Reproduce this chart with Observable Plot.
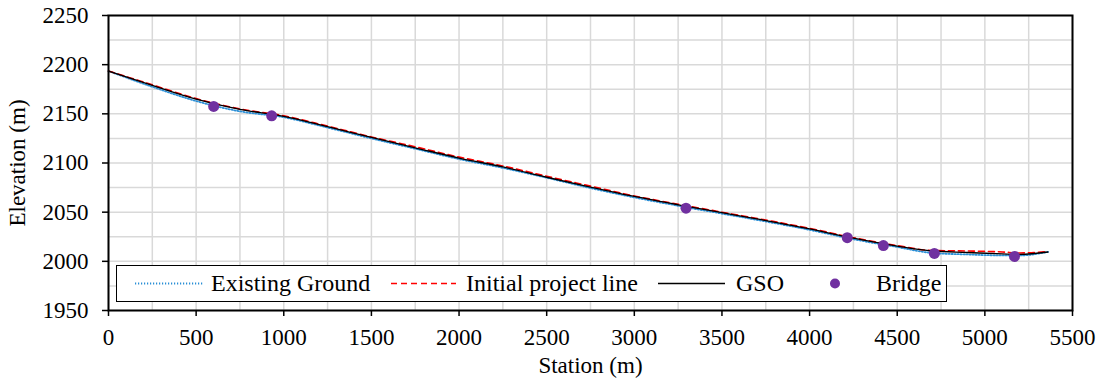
<!DOCTYPE html>
<html><head><meta charset="utf-8">
<script src="https://cdn.jsdelivr.net/npm/d3@7"></script>
<script src="https://cdn.jsdelivr.net/npm/@observablehq/plot@0.6"></script>
<style>
body{margin:0;background:#fff;}
#wrap{position:relative;width:1099px;height:383px;font-family:"Liberation Serif",Tinos,"Times New Roman",Times,"DejaVu Serif",serif;}
#wrap svg text{font-family:"Liberation Serif",Tinos,"Times New Roman",Times,"DejaVu Serif",serif;}
#legend{position:absolute;left:116px;top:265px;width:829px;height:35px;border:1.5px solid #000;background:#fff;font-size:24px;color:#000;}
#legend .it{position:absolute;top:0;height:35px;line-height:35px;white-space:nowrap;}
#legend svg{position:absolute;top:0;}
</style>
</head><body>
<div id="wrap"><div id="chart"></div><div id="legend"></div></div>
<script>
const stations = [0, 250, 500, 750, 1000, 1250, 1500, 1750, 2000, 2250, 2500, 2750, 3000, 3250, 3500, 3750, 4000, 4250, 4500, 4700, 4900, 5100, 5200, 5360];
const existingGround = [2193.5, 2177.5, 2163, 2152.5, 2146.5, 2136, 2125, 2114.5, 2104, 2095, 2085, 2074.5, 2065, 2056.5, 2048.5, 2040.5, 2032, 2022.5, 2014.5, 2008.5, 2007, 2006, 2006, 2009.5];
const initialProject = [2193.5, 2179.5, 2165.5, 2155, 2148, 2137.5, 2126.5, 2116.5, 2106, 2097, 2086.5, 2076.5, 2066.5, 2058, 2050, 2042, 2033.5, 2024, 2016, 2011, 2010.5, 2009.5, 2008.5, 2010];
const gso = [2193.5, 2179, 2165, 2154.5, 2147.5, 2137, 2126, 2115.5, 2105, 2096, 2085.5, 2075.5, 2066, 2057.5, 2049.5, 2041.5, 2033, 2023.5, 2015.5, 2010.5, 2009, 2007.5, 2007, 2009.5];
const bridgeStations = [600, 931, 3295, 4215, 4421, 4712, 5169];
const bridgeElev = [2157.5, 2148, 2054, 2024, 2016, 2008, 2005];
const xTicks = [0, 500, 1000, 1500, 2000, 2500, 3000, 3500, 4000, 4500, 5000, 5500];
const yTicks = [1950, 2000, 2050, 2100, 2150, 2200, 2250];
const xGrid = d3.range(0, 5501, 250);
const yGrid = d3.range(1950, 2251, 25);
const seriesNames = ["Existing Ground", "Initial project line", "GSO", "Bridge"];

const toRows = (xs, ys) => xs.map((x, i) => ({x, y: ys[i]}));
const FONT = '"Liberation Serif", Tinos, "Times New Roman", Times, "DejaVu Serif", serif';

const chart = Plot.plot({
  width: 1099, height: 383,
  marginLeft: 108, marginRight: 27, marginTop: 15, marginBottom: 73,
  x: {domain: [0, 5500]},
  y: {domain: [1950, 2250]},
  style: {fontFamily: FONT, fontSize: "24px", color: "#000", background: "#fff", overflow: "visible"},
  marks: [
    Plot.gridX(xGrid, {stroke: "#d9d9d9", strokeOpacity: 1, strokeWidth: 1.5}),
    Plot.gridY(yGrid, {stroke: "#d9d9d9", strokeOpacity: 1, strokeWidth: 1.5}),
    Plot.line(toRows(stations, existingGround), {x: "x", y: "y", curve: "monotone-x", stroke: "#2a8fd6", strokeWidth: 1.8, strokeDasharray: "1.2,1.8"}),
    Plot.line(toRows(stations, initialProject), {x: "x", y: "y", curve: "monotone-x", stroke: "#ff0000", strokeWidth: 1.6, strokeDasharray: "6,4"}),
    Plot.line(toRows(stations, gso), {x: "x", y: "y", curve: "monotone-x", stroke: "#000", strokeWidth: 1.3}),
    Plot.dot(toRows(bridgeStations, bridgeElev), {x: "x", y: "y", fill: "#7030a0", r: 5.5}),
    Plot.frame({stroke: "#000", strokeWidth: 2}),
    Plot.axisX(xTicks, {tickSize: 6, tickPadding: 12, strokeWidth: 1.5, tickFormat: d => String(d), fontSize: 23,
      label: "Station (m)", labelAnchor: "center", labelArrow: "none", labelOffset: 62}),
    Plot.axisY(yTicks, {tickSize: 6, tickPadding: 14, strokeWidth: 1.5, tickFormat: d => String(d), fontSize: 23,
      label: "Elevation (m)", labelAnchor: "center", labelArrow: "none", labelOffset: 100})
  ]
});
document.getElementById("chart").appendChild(chart);

// legend (HTML overlay inside the plot area)
const lg = document.getElementById("legend");
const swatches = [
  {left: 18, w: 68, kind: "line", stroke: "#2a8fd6", dash: "1.2,1.8", sw: 1.8, textLeft: 94},
  {left: 274, w: 65, kind: "line", stroke: "#ff0000", dash: "6,4", sw: 1.6, textLeft: 349},
  {left: 541, w: 67, kind: "line", stroke: "#000", dash: null, sw: 1.3, textLeft: 619},
  {left: 712, w: 12, kind: "dot", stroke: "#7030a0", textLeft: 759}
];
swatches.forEach((s, i) => {
  const svg = d3.create("svg").attr("width", s.w).attr("height", 35).style("left", s.left + "px");
  if (s.kind === "line") {
    svg.append("line").attr("x1", 0).attr("x2", s.w).attr("y1", 17.5).attr("y2", 17.5)
      .attr("stroke", s.stroke).attr("stroke-width", s.sw).attr("stroke-dasharray", s.dash);
  } else {
    svg.append("circle").attr("cx", 6).attr("cy", 17.5).attr("r", 5).attr("fill", s.stroke);
  }
  lg.appendChild(svg.node());
  const t = document.createElement("div");
  t.className = "it"; t.style.left = s.textLeft + "px"; t.textContent = seriesNames[i];
  lg.appendChild(t);
});
</script>
</body></html>
